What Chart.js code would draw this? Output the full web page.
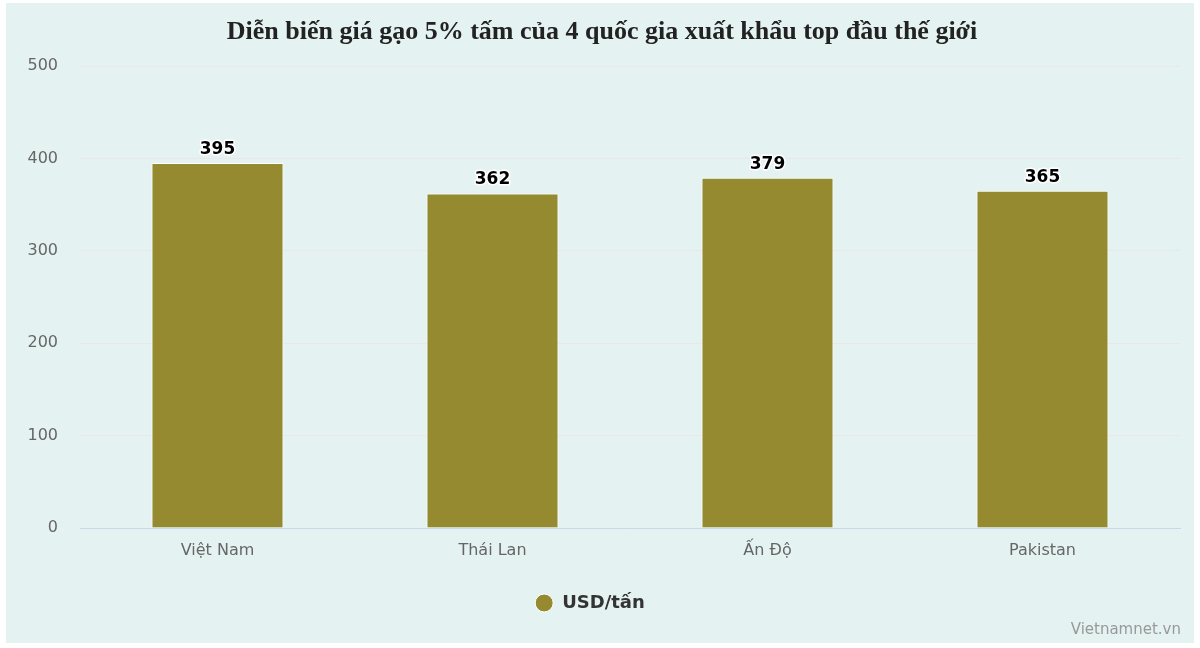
<!DOCTYPE html>
<html><head><meta charset="utf-8">
<script src="https://cdn.jsdelivr.net/npm/chart.js@4/dist/chart.umd.min.js"></script>
<style>html,body{margin:0;padding:0;background:#fff;}#wrap{width:1200px;height:648px;position:relative;}</style>
</head><body><div id="wrap"><canvas id="c" width="1200" height="648"></canvas></div>
<script>
const categories = ["Việt Nam", "Thái Lan", "Ấn Độ", "Pakistan"];
const prices = [395, 362, 379, 365];
const seriesName = "USD/tấn";
const titleText = "Diễn biến giá gạo 5% tấm của 4 quốc gia xuất khẩu top đầu thế giới";
const creditText = "Vietnamnet.vn";

const bgPlugin = {
  id: 'bg',
  beforeDraw(chart) {
    const ctx = chart.ctx;
    ctx.save();
    ctx.fillStyle = '#fff';
    ctx.fillRect(0, 0, chart.width, chart.height);
    ctx.fillStyle = '#e4f3f1';
    ctx.fillRect(6, 3, 1188, 640);
    ctx.restore();
  },
  afterDraw(chart) {
    const ctx = chart.ctx;
    ctx.save();
    ctx.font = 'bold 26px "Liberation Serif"';
    ctx.fillStyle = '#222';
    ctx.textAlign = 'center';
    ctx.textBaseline = 'middle';
    ctx.fillText(titleText, 602, 32);
    ctx.font = '15px "DejaVu Sans"';
    ctx.fillStyle = '#999';
    ctx.textAlign = 'right';
    ctx.fillText(creditText, 1181, 630);
    ctx.restore();
  }
};
const labelPlugin = {
  id: 'vals',
  afterDatasetsDraw(chart) {
    const ctx = chart.ctx;
    const meta = chart.getDatasetMeta(0);
    ctx.save();
    ctx.font = 'bold 17px "DejaVu Sans"';
    ctx.textAlign = 'center';
    ctx.textBaseline = 'bottom';
    ctx.lineJoin = 'round';
    meta.data.forEach((el, i) => {
      const t = String(prices[i]);
      ctx.strokeStyle = '#fff';
      ctx.lineWidth = 3;
      ctx.strokeText(t, el.x, el.y - 5);
      ctx.fillStyle = '#000';
      ctx.fillText(t, el.x, el.y - 5);
    });
    ctx.restore();
  }
};

new Chart(document.getElementById('c'), {
  type: 'bar',
  data: {
    labels: categories,
    datasets: [{
      label: seriesName,
      data: prices,
      backgroundColor: '#968a31',
      borderColor: '#ffffff',
      borderWidth: 1,
      categoryPercentage: 1,
      barPercentage: 0.48
    }]
  },
  options: {
    responsive: false,
    animation: false,
    layout: { padding: { top: 66, right: 20, left: 0, bottom: 26 } },
    scales: {
      x: {
        grid: { display: false, drawTicks: false },
        border: { color: '#ccd6eb', width: 1 },
        ticks: { color: '#666', font: { family: 'DejaVu Sans', size: 16 }, padding: 13 },
        afterFit(s) { s.height = 58; }
      },
      y: {
        min: 0, max: 500,
        ticks: { stepSize: 100, color: '#666', font: { family: 'DejaVu Sans', size: 16 }, padding: 22 },
        grid: { color: '#ebe6e8', drawTicks: false },
        border: { display: false },
        afterFit(s) { s.width = 80; }
      }
    },
    plugins: {
      legend: {
        position: 'bottom',
        labels: {
          usePointStyle: true, pointStyle: 'circle', boxWidth: 18, boxHeight: 12.7, pointStyleWidth: 18,
          color: '#333', font: { family: 'DejaVu Sans', size: 18, weight: 'bold' }, padding: 8
        }
      },
      title: { display: false },
      tooltip: { enabled: false }
    }
  },
  plugins: [bgPlugin, labelPlugin]
});
</script></body></html>
